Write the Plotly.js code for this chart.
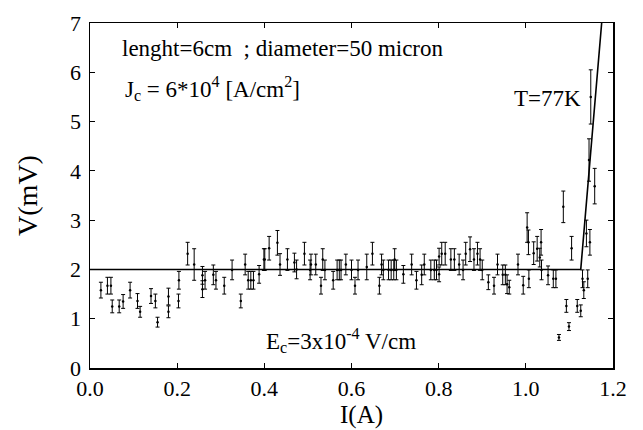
<!DOCTYPE html>
<html>
<head>
<meta charset="utf-8">
<script src="https://cdn.plot.ly/plotly-3.0.1.min.js"></script>
<style>html,body{margin:0;padding:0;background:#fff;}#chart{width:643px;height:430px;}</style>
</head>
<body>
<div id="chart"></div>
<script>
// Measured current I (A)
const currentA = [
  0.025,0.040,0.048,0.051,0.067,0.076,0.092,0.109,0.115,0.140,
  0.150,0.155,0.180,0.180,0.203,0.204,0.224,0.239,0.258,0.258,
  0.264,0.283,0.289,0.308,0.326,0.346,0.356,0.363,0.369,0.375,
  0.388,0.399,0.401,0.411,0.430,0.436,0.453,0.469,0.474,0.492,
  0.505,0.507,0.518,0.530,0.534,0.539,0.558,0.567,0.572,0.576,
  0.587,0.600,0.608,0.615,0.635,0.648,0.664,0.669,0.673,0.685,
  0.691,0.697,0.699,0.703,0.719,0.738,0.749,0.761,0.767,0.782,
  0.790,0.795,0.801,0.801,0.807,0.815,0.828,0.836,0.847,0.856,
  0.862,0.872,0.881,0.889,0.895,0.900,0.914,0.927,0.935,0.947,
  0.953,0.957,0.962,0.982,0.994,1.003,1.006,1.007,1.018,1.026,
  1.032,1.035,1.036,1.051,1.063,1.069,1.076,1.086,1.093,1.099,
  1.105,1.118,1.126,1.130,1.133,1.139,1.142,1.145,1.147,1.149,
  1.158
];
// Measured voltage V (mV)
const voltageMV = [
  1.58,1.67,1.67,1.25,1.25,1.35,1.58,1.36,1.14,1.46,
  1.36,0.93,1.45,1.14,1.36,1.78,2.32,2.10,1.88,1.60,
  1.78,1.89,1.78,1.67,1.99,1.36,2.10,1.78,1.78,1.78,
  1.90,2.20,2.20,2.43,2.54,2.10,2.20,2.14,2.00,2.32,
  1.99,2.10,2.10,1.67,2.20,1.99,1.78,1.99,1.99,1.99,
  2.10,1.99,1.67,1.99,2.05,2.32,1.67,2.10,1.99,1.99,
  1.99,1.99,2.20,1.99,1.90,2.10,1.78,1.89,2.10,1.99,
  1.99,1.99,2.26,1.90,2.32,2.32,2.20,2.20,2.10,1.99,
  2.32,2.41,2.20,2.32,2.20,1.99,1.74,1.67,2.10,1.89,
  1.89,1.70,1.64,2.10,1.68,2.85,2.55,1.81,2.33,2.42,
  2.24,2.55,1.99,1.88,1.81,1.81,0.62,3.27,1.26,0.84,
  2.43,1.26,1.16,1.81,1.58,2.73,1.81,4.22,2.55,5.50,
  3.69
];
// Error bar half-heights (mV)
const voltageErr = [
  0.16,0.17,0.17,0.13,0.13,0.14,0.16,0.15,0.11,0.15,
  0.14,0.10,0.17,0.12,0.14,0.18,0.23,0.32,0.18,0.17,
  0.18,0.20,0.18,0.17,0.20,0.14,0.21,0.18,0.18,0.18,
  0.18,0.22,0.22,0.24,0.25,0.22,0.22,0.19,0.19,0.23,
  0.20,0.21,0.21,0.17,0.22,0.20,0.18,0.20,0.20,0.20,
  0.21,0.20,0.17,0.20,0.26,0.23,0.17,0.21,0.20,0.20,
  0.20,0.20,0.22,0.20,0.18,0.21,0.18,0.20,0.21,0.20,
  0.20,0.20,0.17,0.15,0.23,0.23,0.22,0.22,0.21,0.20,
  0.23,0.25,0.22,0.23,0.22,0.20,0.15,0.17,0.21,0.20,
  0.20,0.19,0.14,0.21,0.18,0.30,0.25,0.18,0.23,0.25,
  0.19,0.26,0.20,0.19,0.18,0.18,0.06,0.32,0.13,0.08,
  0.24,0.13,0.12,0.18,0.17,0.27,0.18,0.43,0.26,0.55,
  0.36
];
// Guide lines: flat baseline and steep transition
const fitI = [0.0, 1.126, 1.174];
const fitV = [2.0, 2.0, 7.0];

const serif = "Liberation Serif";

const traces = [
  {
    x: currentA, y: voltageMV, type: 'scatter', mode: 'markers',
    marker: {color: 'black', size: 2.5},
    error_y: {type: 'data', array: voltageErr, visible: true, color: 'black', thickness: 1, width: 2},
    hoverinfo: 'x+y', showlegend: false
  },
  {
    x: fitI, y: fitV, type: 'scatter', mode: 'lines',
    line: {color: 'black', width: 1.6}, showlegend: false
  }
];

const axisCommon = {
  showgrid: false, zeroline: false, showline: true, linecolor: 'black', linewidth: 1.5,
  mirror: 'ticks', ticks: 'inside', ticklen: 5, tickwidth: 1, tickcolor: 'black',
  tickfont: {family: serif, size: 22, color: 'black'}, automargin: false
};

const layout = {
  width: 643, height: 430,
  margin: {l: 90, r: 30, t: 23, b: 62},
  paper_bgcolor: 'white', plot_bgcolor: 'white',
  font: {family: serif, color: 'black'},
  xaxis: Object.assign({}, axisCommon, {
    range: [0, 1.2], dtick: 0.2, tick0: 0, tickformat: '.1f', ticklabelstandoff: 0
  }),
  yaxis: Object.assign({}, axisCommon, {
    range: [0, 7], dtick: 1, tick0: 0, ticklabelstandoff: 3,
    title: {text: 'V(mV)', font: {family: serif, size: 28, color: 'black'}, standoff: 24}
  }),
  annotations: [
    {text: 'I(A)', xref: 'paper', yref: 'paper',
     x: 0.52, y: -0.137, xanchor: 'center', yanchor: 'middle', showarrow: false,
     font: {family: serif, size: 25, color: 'black'}},
    {text: 'lenght=6cm  ; diameter=50 micron', xref: 'paper', yref: 'paper',
     x: 0.057, y: 0.925, xanchor: 'left', yanchor: 'middle', showarrow: false,
     font: {family: serif, size: 23, color: 'black'}},
    {text: 'J<sub>c</sub> = 6*10<sup>4</sup> [A/cm<sup>2</sup>]', xref: 'paper', yref: 'paper',
     x: 0.063, y: 0.81, xanchor: 'left', yanchor: 'middle', showarrow: false,
     font: {family: serif, size: 23, color: 'black'}},
    {text: 'T=77K', xref: 'paper', yref: 'paper',
     x: 0.875, y: 0.78, xanchor: 'center', yanchor: 'middle', showarrow: false,
     font: {family: serif, size: 23, color: 'black'}},
    {text: 'E<sub>c</sub>=3x10<sup>-4</sup> V/cm', xref: 'paper', yref: 'paper',
     x: 0.48, y: 0.08, xanchor: 'center', yanchor: 'middle', showarrow: false,
     font: {family: serif, size: 23, color: 'black'}}
  ]
};

Plotly.newPlot('chart', traces, layout, {staticPlot: true, displayModeBar: false});
</script>
</body>
</html>
